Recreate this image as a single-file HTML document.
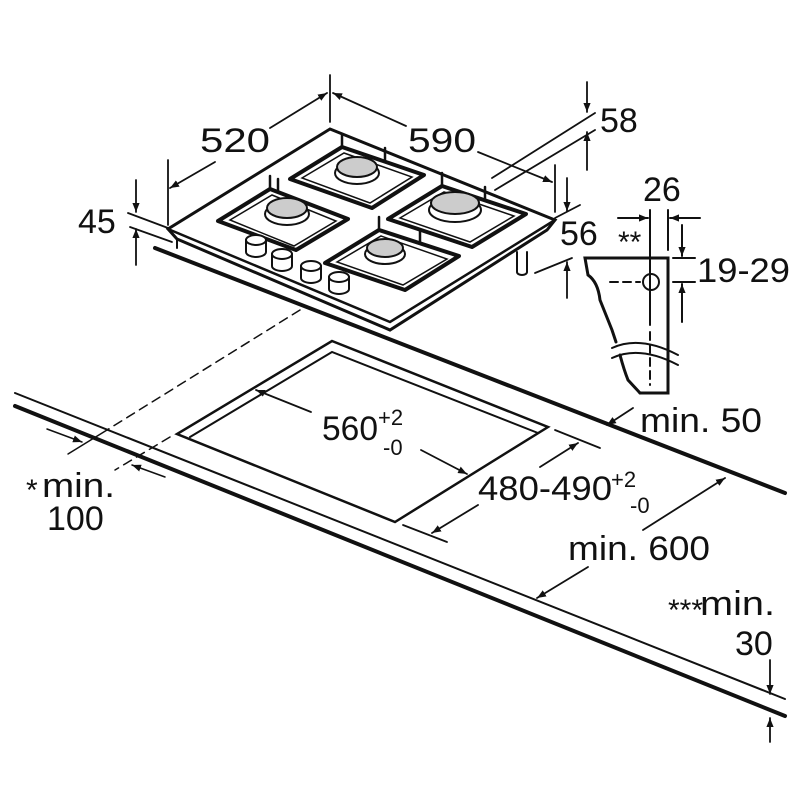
<!DOCTYPE html>
<html><head><meta charset="utf-8"><style>
html,body{margin:0;padding:0;background:#fff}
svg{display:block}
text{font-family:"Liberation Sans",Arial,sans-serif;fill:#111}
</style></head><body>
<svg width="800" height="800" viewBox="0 0 800 800" xmlns="http://www.w3.org/2000/svg">
<defs>
<marker id="a" viewBox="0 0 10 10" refX="10" refY="5" markerWidth="9" markerHeight="9" markerUnits="userSpaceOnUse" orient="auto"><path d="M0,1 L10,5 L0,9 Z" fill="#111"/></marker>
</defs>
<g stroke="#111" fill="none" stroke-linecap="round">
<line x1="15" y1="393" x2="785" y2="699" stroke-width="2"/>
<line x1="15" y1="406" x2="785" y2="716" stroke-width="4"/>
<line x1="155" y1="248" x2="785" y2="493" stroke-width="4"/>
<line x1="300" y1="310" x2="107" y2="430" stroke-width="1.5" stroke-dasharray="9,6"/>
<line x1="107" y1="430" x2="68" y2="454" stroke-width="1.5"/>
<line x1="170" y1="437" x2="115" y2="470" stroke-width="1.5" stroke-dasharray="9,6"/>
<line x1="47" y1="429" x2="82" y2="442" stroke-width="1.5" marker-end="url(#a)"/>
<line x1="165" y1="477" x2="132" y2="465" stroke-width="1.5" marker-end="url(#a)"/>
<path d="M332,341 L548,427 L395,522 L177,434 Z" stroke-width="2.5"/>
<path d="M190,437 L332,352 L538,433" stroke-width="2"/>
<path d="M330,129 L555,220 L547,230 L390,330 L177,239 L168,229 Z" stroke-width="3" fill="#fff"/>
<path d="M168,229 L390,322 L555,220" stroke-width="2.5"/>
<line x1="177" y1="239" x2="177" y2="248" stroke-width="2"/>
<g stroke-width="4" stroke-linejoin="round">
<path d="M218,221 l52,-32 l78,30 l-52,31 Z"/>
<path d="M290,179 l52,-32 l82,28 l-52,33 Z"/>
<path d="M388,219 l54,-33 l84,28 l-54,33 Z"/>
<path d="M325,263 l54,-33 l80,26 l-54,34 Z"/>
</g>
<g stroke-width="1.5">
<path d="M230,220 l42,-25 l64,26 l-42,25 Z"/>
<path d="M302,178 l42,-25 l68,24 l-42,26 Z"/>
<path d="M400,218 l44,-26 l70,24 l-44,26 Z"/>
<path d="M337,262 l44,-26 l66,23 l-44,26 Z"/>
</g>
<g stroke-width="2.5">
<line x1="270" y1="189" x2="270" y2="176"/><line x1="278" y1="192" x2="278" y2="179"/>
<line x1="342" y1="147" x2="342" y2="134"/><line x1="385" y1="161" x2="385" y2="148"/>
<line x1="442" y1="186" x2="442" y2="173"/><line x1="485" y1="200" x2="485" y2="187"/>
<line x1="379" y1="230" x2="379" y2="217"/><line x1="420" y1="243" x2="420" y2="230"/>
</g>
<g stroke-width="2">
<ellipse cx="287" cy="214" rx="22" ry="11" fill="#fff"/>
<ellipse cx="287" cy="208" rx="20" ry="10" fill="#ccc"/>
<ellipse cx="357" cy="173" rx="22" ry="11" fill="#fff"/>
<ellipse cx="357" cy="167" rx="20" ry="10" fill="#ccc"/>
<ellipse cx="455" cy="210" rx="26" ry="12" fill="#fff"/>
<ellipse cx="455" cy="203" rx="24" ry="11" fill="#ccc"/>
<ellipse cx="385" cy="254" rx="20" ry="10" fill="#fff"/>
<ellipse cx="385" cy="248" rx="18" ry="9" fill="#ccc"/>
</g>
<g stroke-width="2" fill="#fff">
<path d="M246,240 v12 a10,5 0 0 0 20,0 v-12"/><ellipse cx="256" cy="240" rx="10" ry="5"/>
<path d="M272,254 v12 a10,5 0 0 0 20,0 v-12"/><ellipse cx="282" cy="254" rx="10" ry="5"/>
<path d="M301,266 v12 a10,5 0 0 0 20,0 v-12"/><ellipse cx="311" cy="266" rx="10" ry="5"/>
<path d="M329,277 v12 a10,5 0 0 0 20,0 v-12"/><ellipse cx="339" cy="277" rx="10" ry="5"/>
<path d="M517,252 v20 a5,3 0 0 0 10,0 v-20"/>
</g>
<g stroke-width="1.8">
<line x1="168" y1="160" x2="168" y2="225"/>
<line x1="330" y1="75" x2="330" y2="122"/>
<line x1="555" y1="165" x2="555" y2="212"/>
<line x1="215" y1="162" x2="170" y2="188" marker-end="url(#a)"/>
<line x1="270" y1="128" x2="327" y2="93" marker-end="url(#a)"/>
<line x1="406" y1="126" x2="333" y2="93" marker-end="url(#a)"/>
<line x1="478" y1="152" x2="552" y2="182" marker-end="url(#a)"/>
<line x1="492" y1="178" x2="595" y2="113"/>
<line x1="495" y1="190" x2="595" y2="130"/>
<line x1="587" y1="82" x2="587" y2="112" marker-end="url(#a)"/>
<line x1="587" y1="170" x2="587" y2="132" marker-end="url(#a)"/>
<line x1="128" y1="213" x2="168" y2="228"/>
<line x1="130" y1="227" x2="172" y2="242"/>
<line x1="136" y1="180" x2="136" y2="212" marker-end="url(#a)"/>
<line x1="136" y1="265" x2="136" y2="229" marker-end="url(#a)"/>
<line x1="555" y1="218" x2="580" y2="205"/>
<line x1="535" y1="273" x2="572" y2="258"/>
<line x1="567" y1="178" x2="567" y2="211" marker-end="url(#a)"/>
<line x1="567" y1="298" x2="567" y2="262" marker-end="url(#a)"/>
<line x1="311" y1="412" x2="256" y2="390" marker-end="url(#a)"/>
<line x1="421" y1="450" x2="467" y2="474" marker-end="url(#a)"/>
<line x1="555" y1="430" x2="600" y2="448"/>
<line x1="403" y1="525" x2="447" y2="542"/>
<line x1="540" y1="467" x2="578" y2="443" marker-end="url(#a)"/>
<line x1="478" y1="505" x2="432" y2="533" marker-end="url(#a)"/>
<line x1="633" y1="408" x2="607" y2="425" marker-end="url(#a)"/>
<line x1="643" y1="530" x2="725" y2="478" marker-end="url(#a)"/>
<line x1="588" y1="567" x2="537" y2="598" marker-end="url(#a)"/>
<line x1="770" y1="660" x2="770" y2="694" marker-end="url(#a)"/>
<line x1="770" y1="742" x2="770" y2="718" marker-end="url(#a)"/>
</g>
<g stroke-width="3">
<path d="M640,393 L668,393 L668,258 L585,258 L588,275 Q598,282 600,300 Q608,320 612,330 L616,342"/>
<path d="M620,355 Q624,370 628,380 L640,393"/>
</g>
<g stroke-width="2">
<path d="M612,348 Q640,335 678,355"/>
<path d="M612,358 Q640,345 678,365"/>
<circle cx="651" cy="282" r="8"/>
<line x1="650" y1="210" x2="650" y2="325"/>
<line x1="668" y1="210" x2="668" y2="250"/>
<line x1="650" y1="332" x2="650" y2="385" stroke-dasharray="8,5"/>
<line x1="610" y1="282" x2="640" y2="282" stroke-dasharray="8,5"/>
<line x1="673" y1="258" x2="695" y2="258"/>
<line x1="673" y1="282" x2="695" y2="282"/>
<line x1="618" y1="218" x2="648" y2="218" marker-end="url(#a)"/>
<line x1="700" y1="218" x2="670" y2="218" marker-end="url(#a)"/>
<line x1="682" y1="225" x2="682" y2="256" marker-end="url(#a)"/>
<line x1="682" y1="322" x2="682" y2="284" marker-end="url(#a)"/>
</g>
</g>
<g font-size="34">
<text x="200" y="152" textLength="70" lengthAdjust="spacingAndGlyphs">520</text>
<text x="408" y="152" textLength="68" lengthAdjust="spacingAndGlyphs">590</text>
<text x="600" y="132">58</text>
<text x="78" y="233">45</text>
<text x="560" y="245">56</text>
<text x="643" y="201">26</text>
<text x="697" y="282" textLength="93" lengthAdjust="spacingAndGlyphs">19-29</text>
<text x="640" y="432" textLength="122" lengthAdjust="spacingAndGlyphs">min. 50</text>
<text x="322" y="440" textLength="56" lengthAdjust="spacingAndGlyphs">560</text>
<text x="478" y="500" textLength="134" lengthAdjust="spacingAndGlyphs">480-490</text>
<text x="568" y="560" textLength="142" lengthAdjust="spacingAndGlyphs">min. 600</text>
<text x="42" y="497" textLength="73" lengthAdjust="spacingAndGlyphs">min.</text>
<text x="47" y="530">100</text>
<text x="700" y="615" textLength="75" lengthAdjust="spacingAndGlyphs">min.</text>
<text x="735" y="655">30</text>
</g>
<g font-size="22">
<text x="378" y="425">+2</text>
<text x="383" y="455">-0</text>
<text x="611" y="487">+2</text>
<text x="630" y="513">-0</text>
</g>
<g font-size="30">
<text x="618" y="252">**</text>
<text x="26" y="500">*</text>
<text x="668" y="620">***</text>
</g>
</svg>
</body></html>
